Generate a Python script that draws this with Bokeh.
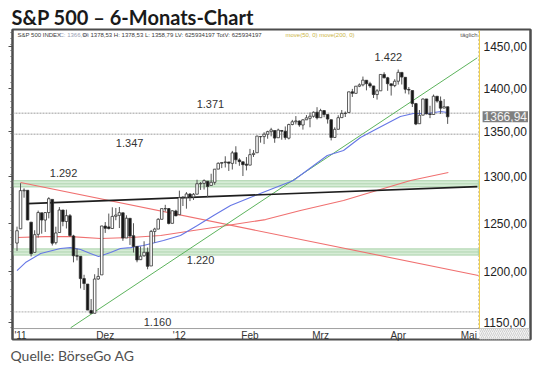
import numpy as np
from bokeh.plotting import figure
from bokeh.models import (ColumnDataSource, FixedTicker, LinearAxis, Label, Title,
                          CustomJSTickFormatter, Range1d)
from bokeh.embed import file_html
from bokeh.resources import INLINE

# ---------------- data (trading days 26.10.2011 - 23.04.2012) ----------------
opens = [
    1229.17, 1243.97, 1284.39, 1284.96,
    1251.00, 1219.62, 1238.25, 1260.82, 1253.21, 1261.12, 1275.18, 1229.59, 1240.12, 1263.85, 1251.70,
    1257.81, 1236.56, 1216.19, 1215.62, 1192.98, 1187.48, 1161.41, 1158.67, 1192.56, 1196.72,
    1246.91, 1246.03, 1244.33, 1257.19, 1258.14, 1260.87, 1234.48, 1255.05, 1236.83, 1225.73, 1212.12,
    1216.09, 1219.74, 1205.72, 1241.25, 1243.72, 1254.00, 1265.02, 1265.38, 1249.75, 1262.82,
    1258.86, 1277.03, 1277.30, 1280.93, 1277.83, 1280.77, 1292.02, 1292.48, 1294.82, 1290.22,
    1293.65, 1308.07, 1314.49, 1315.29, 1315.96, 1314.40, 1326.28, 1318.25, 1316.16, 1313.53,
    1312.45, 1324.24, 1326.21, 1344.32, 1344.33, 1347.04, 1349.97, 1351.21, 1343.06, 1351.30,
    1350.52, 1342.61, 1358.06, 1361.22, 1362.11, 1357.53, 1363.46, 1365.20, 1367.56, 1372.20,
    1365.90, 1374.09, 1369.59, 1363.63, 1343.39, 1352.65, 1365.97, 1370.78, 1371.92, 1395.95, 1394.17,
    1402.55, 1404.17, 1409.59, 1405.52, 1402.89, 1392.78, 1397.11, 1416.55, 1412.52, 1405.39, 1403.31,
    1408.47, 1418.98, 1413.09, 1398.79, 1397.45, 1382.18, 1358.98, 1368.77, 1387.61, 1370.27,
    1369.57, 1390.78, 1385.08, 1376.96, 1378.53,
]
highs = [
    1246.28, 1292.66, 1287.08, 1284.96,
    1251.00, 1242.48, 1263.21, 1260.82, 1261.70, 1277.55, 1275.18, 1246.22, 1266.98, 1263.85, 1264.25,
    1259.61, 1237.73, 1223.51, 1215.62, 1196.81, 1187.48, 1172.66, 1197.35, 1203.67, 1247.11,
    1251.09, 1260.08, 1266.73, 1266.03, 1267.06, 1260.87, 1258.25, 1255.05, 1249.86, 1225.73, 1225.60,
    1231.04, 1224.57, 1242.82, 1245.09, 1255.22, 1265.42, 1269.37, 1265.85, 1263.54, 1264.12,
    1284.62, 1278.73, 1283.05, 1281.84, 1281.99, 1296.46, 1293.80, 1296.82, 1294.82, 1303.00,
    1308.11, 1315.49, 1315.38, 1322.28, 1315.96, 1328.30, 1333.47, 1320.06, 1316.16, 1321.41,
    1330.52, 1329.19, 1345.34, 1344.36, 1349.24, 1351.00, 1354.32, 1351.21, 1353.35, 1351.30,
    1355.87, 1359.02, 1363.40, 1367.76, 1362.70, 1364.24, 1368.92, 1371.94, 1373.09, 1378.04,
    1376.17, 1374.53, 1369.59, 1363.63, 1354.85, 1368.72, 1374.76, 1373.04, 1396.13, 1399.42, 1402.63,
    1405.88, 1414.00, 1409.59, 1407.75, 1402.89, 1399.18, 1416.58, 1419.15, 1413.65, 1405.39, 1410.89,
    1422.38, 1419.00, 1413.09, 1401.60, 1397.45, 1383.01, 1374.71, 1388.13, 1387.61, 1379.66,
    1392.76, 1390.78, 1390.46, 1387.40, 1378.53,
]
lows = [
    1221.06, 1243.97, 1277.01, 1253.16,
    1215.42, 1219.62, 1234.81, 1238.92, 1240.75, 1254.99, 1226.64, 1227.70, 1240.12, 1246.68, 1244.34,
    1235.67, 1209.43, 1211.36, 1183.16, 1181.65, 1161.79, 1158.66, 1158.67, 1191.80, 1196.72,
    1239.73, 1243.35, 1244.33, 1253.03, 1244.80, 1231.47, 1234.48, 1227.25, 1219.43, 1209.47, 1212.12,
    1215.20, 1202.37, 1205.72, 1229.51, 1243.72, 1254.00, 1262.30, 1248.64, 1249.75, 1257.46,
    1258.86, 1268.10, 1265.26, 1273.34, 1274.55, 1280.77, 1285.41, 1285.77, 1277.58, 1290.22,
    1290.99, 1308.07, 1309.17, 1309.89, 1306.06, 1307.65, 1313.60, 1311.72, 1300.49, 1306.69,
    1312.45, 1321.57, 1326.21, 1337.52, 1335.92, 1341.95, 1344.63, 1337.35, 1343.06, 1340.83,
    1340.80, 1341.22, 1357.24, 1358.11, 1355.53, 1352.28, 1363.46, 1354.92, 1365.97, 1363.81,
    1365.90, 1366.42, 1359.13, 1340.03, 1343.39, 1352.65, 1365.97, 1366.69, 1371.92, 1389.97, 1394.17,
    1401.47, 1402.43, 1397.68, 1400.64, 1388.73, 1386.87, 1397.11, 1411.95, 1397.20, 1391.56, 1401.42,
    1404.46, 1404.62, 1394.09, 1392.92, 1378.24, 1357.38, 1358.98, 1368.77, 1369.85, 1365.38,
    1369.57, 1383.29, 1370.30, 1376.96, 1358.79,
]
closes = [
    1242.00, 1284.59, 1285.09, 1253.30,
    1218.28, 1237.90, 1261.15, 1253.23, 1261.12, 1275.92, 1229.10, 1239.69, 1263.85, 1251.78, 1257.81,
    1236.91, 1216.13, 1215.65, 1192.98, 1188.04, 1161.79, 1158.67, 1192.55, 1195.19, 1246.96,
    1244.58, 1244.28, 1257.08, 1258.47, 1261.01, 1234.35, 1255.19, 1236.47, 1225.73, 1211.82, 1215.75,
    1219.66, 1205.35, 1241.30, 1243.72, 1254.00, 1265.33, 1265.43, 1249.64, 1263.02, 1257.60,
    1277.06, 1277.30, 1281.06, 1277.81, 1280.70, 1292.08, 1292.48, 1295.50, 1289.09, 1293.67,
    1308.04, 1314.50, 1315.38, 1316.00, 1314.65, 1326.06, 1318.43, 1316.33, 1313.01, 1312.41,
    1324.09, 1325.54, 1344.90, 1344.33, 1347.05, 1349.96, 1351.95, 1342.64, 1351.77, 1350.50,
    1343.23, 1358.04, 1361.23, 1362.21, 1357.66, 1363.46, 1365.74, 1367.59, 1372.18, 1365.68,
    1374.09, 1369.63, 1364.33, 1343.36, 1352.63, 1365.91, 1370.87, 1371.09, 1395.95, 1394.28, 1402.60,
    1404.17, 1409.75, 1405.52, 1402.89, 1392.78, 1397.11, 1416.51, 1412.52, 1405.54, 1403.28, 1408.47,
    1419.04, 1413.38, 1398.96, 1398.08, 1382.20, 1358.59, 1368.71, 1387.57, 1370.26, 1369.57,
    1390.78, 1385.14, 1376.92, 1378.53, 1366.94,
]
assert len(opens) == len(highs) == len(lows) == len(closes) == 123

# move(50) line (trading-day position, price)
ma50_x = [0, 2.4, 6.7, 12.3, 15.2, 18.0, 20.8, 23.1, 26.5, 29.3, 32.2, 35.8, 41.5, 46.3, 51.1,
          55.7, 60.5, 66.1, 68.9, 78.3, 87.9, 92.5, 97.3, 102.1, 108.6, 112.3, 116.3, 120.0, 122]
ma50_y = [1201.1, 1209.2, 1218.4, 1223.5, 1224.5, 1222.5, 1218.4, 1215.3, 1219.4, 1223.5, 1224.5,
          1226.6, 1231.8, 1237.0, 1247.4, 1258.0, 1268.6, 1277.2, 1281.5, 1295.6, 1323.1, 1328.7,
          1343.3, 1353.5, 1367.2, 1370.7, 1370.7, 1373.0, 1371.8]
# move(200) line
ma200_x = [0, 8.1, 15.2, 23.7, 32.2, 40.7, 50.0, 57.6, 70.4, 80.3, 92.5, 101.0, 111.5, 122.2]
ma200_y = [1234.9, 1235.9, 1235.9, 1233.9, 1234.9, 1237.0, 1242.2, 1246.4, 1253.7, 1263.3,
           1273.9, 1283.6, 1295.6, 1304.3]

# trend lines (start/end: trading-day position, price)
trend_red_x, trend_red_y = [1.0, 130.7], [1293.4, 1196.1]
trend_green_x, trend_green_y = [15.2, 130.4], [1144.6, 1436.5]
trend_black_x, trend_black_y = [3.0, 130.4], [1270.7, 1289.0]

# horizontal marks
gray_levels = [1371, 1347, 1160]
green_levels = [1292, 1220]
level_values = [1422, 1371, 1347, 1292, 1220, 1160]
level_texts = ["1.422", "1.371", "1.347", "1.292", "1.220", "1.160"]

price_ticks = [1150, 1200, 1250, 1300, 1350, 1400, 1450]
month_pos = [1, 25, 46, 66, 86, 108, 128]
month_labels = ["'11", "Dez", "'12", "Feb", "Mrz", "Apr", "Mai"]
last_price_text = "1366,94"

# ---------------- figure ----------------
X0, X1 = -1.275, 145.47          # full chart box (incl. price-label column)
PX1 = 130.7                      # right end of the price area
Y0, Y1 = 1133.4, 1471.1          # full chart box (incl. date row)
Y_DATE_LINE, Y_TOP_AREA = 1143.9, 1469.7

p = figure(width=535, height=365, x_range=Range1d(X0, X1), y_range=Range1d(Y0, Y1),
           y_axis_type="log", x_axis_location=None, y_axis_location=None,
           output_backend="svg", toolbar_location=None,
           min_border_left=12, min_border_right=5, min_border_top=29, min_border_bottom=26)
BORDER = "#4d4d4d"
p.outline_line_color = BORDER
p.outline_line_width = 2
p.grid.visible = False
p.background_fill_color = "white"
p.border_fill_color = "white"

p.title.text = "S&P 500 – 6-Monats-Chart"
p.title.text_font = "Lato"
p.title.text_font_style = "bold"
p.title.text_font_size = "20px"
p.title.text_color = "#1a1a1a"
p.title.align = "left"
p.title.offset = -1
p.title.standoff = 2

blank = CustomJSTickFormatter(code="return ''")
left_ax = LinearAxis(ticker=FixedTicker(ticks=price_ticks, minor_ticks=list(np.arange(1145, 1470, 7.5))),
                     formatter=blank, axis_line_color=BORDER, axis_line_width=2,
                     major_tick_out=4, major_tick_in=0, minor_tick_out=2, minor_tick_in=0,
                     major_tick_line_color=BORDER, minor_tick_line_color="#666",
                     major_label_standoff=0)
p.add_layout(left_ax, "left")

price_ax = LinearAxis(ticker=FixedTicker(ticks=price_ticks),
                      formatter=CustomJSTickFormatter(code="return tick.toFixed(2).replace('.', ',')"),
                      axis_line_color=BORDER, axis_line_width=2,
                      major_tick_in=0, major_tick_out=0, minor_tick_in=0, minor_tick_out=0,
                      major_label_standoff=-47, major_label_text_font="Liberation Sans",
                      major_label_text_font_size="12px", major_label_text_color="#222")
p.add_layout(price_ax, "right")

date_ax = LinearAxis(ticker=FixedTicker(ticks=month_pos),
                     major_label_overrides={k: v for k, v in zip(month_pos, month_labels)},
                     axis_line_color=None, major_tick_out=0, major_tick_in=0,
                     minor_tick_out=0, minor_tick_in=0,
                     major_label_standoff=-10, major_label_text_font="Liberation Sans",
                     major_label_text_font_size="10px", major_label_text_color="#333")
p.add_layout(date_ax, "below")

p.add_layout(Title(text="Quelle: BörseGo AG", align="left", offset=-2, standoff=3,
                   text_font="Lato", text_font_style="normal", text_font_size="14px",
                   text_color="#505050"), "below")

# chart furniture: date row line, price column line, corner box
p.line([X0, X1], [Y_DATE_LINE, Y_DATE_LINE], line_color="#a0a0a0", line_width=1)
p.quad(left=[131.0], right=[X1], top=[Y_DATE_LINE], bottom=[Y0], fill_color="#f2f2f2",
       line_color=None, hatch_pattern="/", hatch_color="#d0d0d0", hatch_scale=4)
p.line([130.75, 130.75], [Y_DATE_LINE, Y_TOP_AREA], line_color="#999999", line_width=1, line_dash="1 3")
p.line([131.0, 131.0], [Y_DATE_LINE, Y_TOP_AREA], line_color="#f0cc3c", line_width=1)

# green support bands
for lv in green_levels:
    p.quad(left=[X0], right=[PX1], top=[lv * 1.0026], bottom=[lv / 1.0026],
           fill_color="#d6ecd6", line_color="#a9d2a9", line_width=1)
    p.line([X0, PX1], [lv, lv], line_color="#8cbf8c", line_width=1, line_dash="1 1")

# gray horizontal lines
for lv in gray_levels:
    p.line([X0, PX1], [lv, lv], line_color="#bdbdbd", line_width=1.4, line_dash="2 1")

# averages and trend lines
p.line(ma200_x, ma200_y, line_color="#f07070", line_width=1.1)
p.line(trend_red_x, trend_red_y, line_color="#f07070", line_width=1.1)
p.line(trend_green_x, trend_green_y, line_color="#5cb35c", line_width=1)
p.line(ma50_x, ma50_y, line_color="#6677e6", line_width=1.1)
p.line(trend_black_x, trend_black_y, line_color="#1e1e1e", line_width=1.7)

# candles
n = len(closes)
src = ColumnDataSource(dict(
    x=list(range(n)), h=highs, l=lows,
    top=[max(o, c) for o, c in zip(opens, closes)],
    bot=[min(o, c) for o, c in zip(opens, closes)],
    fill=["white" if c >= o else "#151515" for o, c in zip(opens, closes)],
))
p.segment(x0="x", y0="l", x1="x", y1="h", source=src, line_color="#555", line_width=1)
p.vbar(x="x", width=0.72, top="top", bottom="bot", source=src,
       fill_color="fill", line_color="#333", line_width=0.8)

# level annotations
label_pos = [105.2, 54.8, 31.9, 13.2, 52.0, 39.8]
label_off = [13, 9, -9, 11, -8, -10]
for xv, lv, tx, off in zip(label_pos, level_values, level_texts, label_off):
    p.add_layout(Label(x=xv, y=lv, y_offset=off, text=tx, text_align="center",
                       text_baseline="middle", text_font="Liberation Sans",
                       text_font_size="11px", text_color="#333"))

# header strip inside the chart box
header = [
    (0.14, "S&P 500 INDEX", "#3a3a3a"),
    (12.04, "C: 1366,94", "#98a0b4"),
    (18.56, "O: 1378,53 H: 1378,53 L: 1358,79 LV: 625934197 TotV: 625934197", "#3a3a3a"),
    (76.06, "move(50, 0) move(200, 0)", "#cbb445"),
    (125.6, "täglich", "#555555"),
]
for hx, ht, hc in header:
    p.add_layout(Label(x=hx, y=1464.9, text=ht, text_font="Liberation Sans",
                       text_font_size="6px", text_color=hc, text_baseline="middle"))

# last price tag in the price column
p.add_layout(Label(x=131.9, y=closes[-1], text=last_price_text,
                   text_font="Liberation Sans", text_font_size="12px", text_color="#f4f4f4",
                   text_baseline="middle", background_fill_color="#7f7f7f", padding=1))

open("out.html", "w").write(file_html(p, INLINE))
